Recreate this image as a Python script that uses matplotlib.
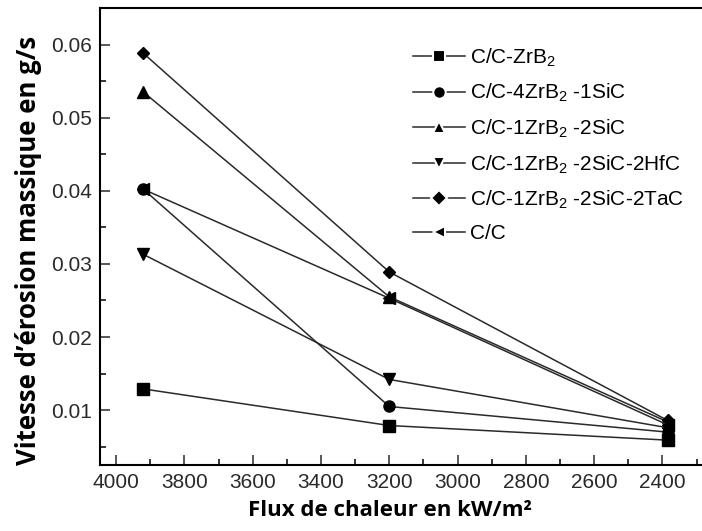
import matplotlib
matplotlib.use("Agg")
import matplotlib.pyplot as plt
from matplotlib.ticker import MultipleLocator

# flux de chaleur (kW/m2)
flux = [3920, 3200, 2385]

# vitesse d'erosion massique (g/s)
zrb2 = [0.0129, 0.0079, 0.0059]
zrb2_sic_4_1 = [0.0402, 0.0105, 0.0070]
zrb2_sic_1_2 = [0.0535, 0.0255, 0.0084]
zrb2_sic_hfc = [0.0313, 0.0142, 0.0076]
zrb2_sic_tac = [0.0588, 0.0289, 0.0086]
cc = [0.0402, 0.0253, 0.0080]

series = [
    (zrb2, 's', 'C/C-ZrB$_2$'),
    (zrb2_sic_4_1, 'o', 'C/C-4ZrB$_2$ -1SiC'),
    (zrb2_sic_1_2, '^', 'C/C-1ZrB$_2$ -2SiC'),
    (zrb2_sic_hfc, 'v', 'C/C-1ZrB$_2$ -2SiC-2HfC'),
    (zrb2_sic_tac, 'D', 'C/C-1ZrB$_2$ -2SiC-2TaC'),
    (cc, '<', 'C/C'),
]

plt.rcParams['font.family'] = ['Liberation Sans', 'DejaVu Sans']
plt.rcParams['mathtext.fontset'] = 'custom'
plt.rcParams['mathtext.rm'] = 'Liberation Sans'

fig = plt.figure(figsize=(7.02, 5.31), dpi=100)
ax = fig.add_axes([0.1425, 0.1243, 0.8575, 0.8607])

for ys, mk, lab in series:
    ms = 6.5 if mk == 'D' else 8
    ax.plot(flux, ys, color='#2a2a2a', linewidth=1.1, marker=mk,
            markersize=ms, markerfacecolor='black', markeredgecolor='black',
            label=lab)

ax.set_xlim(4047, 2284)
ax.set_ylim(0.0025, 0.065)
ax.xaxis.set_major_locator(MultipleLocator(200))
ax.xaxis.set_minor_locator(MultipleLocator(100))
ax.yaxis.set_major_locator(MultipleLocator(0.01))
ax.yaxis.set_minor_locator(MultipleLocator(0.005))
ax.yaxis.set_major_formatter(plt.FuncFormatter(lambda v, p: '%.2f' % v))

ax.tick_params(which='major', direction='in', length=7, width=1.1,
               labelsize=15, colors='#2a2a2a', pad=6)
ax.tick_params(which='minor', direction='in', length=4, width=1.1)
ax.spines['right'].set_visible(False)
for s in ['left', 'bottom', 'top']:
    ax.spines[s].set_linewidth(1.5)

ax.set_xlabel('Flux de chaleur en kW/m²', fontsize=16, fontweight='bold',
              family='Open Sans')
ax.xaxis.set_label_coords(0.482, -0.077)
ax.set_ylabel('Vitesse d’érosion massique en g/s', fontsize=18.5,
              fontweight='bold', family='Open Sans')
ax.yaxis.set_label_coords(-0.097, 0.47)

leg = ax.legend(loc='upper left', bbox_to_anchor=(0.488, 0.957),
                frameon=False, fontsize=15, numpoints=1, handlelength=2.5,
                labelspacing=0.62, handletextpad=0.25)
# petit espace blanc entre trait et marqueur, comme dans l'original
for h in leg.legend_handles:
    h.set_markersize(9 if h.get_marker() != 'D' else 8)
    h.set_markeredgecolor('white')
    h.set_markeredgewidth(1.5)

fig.savefig('out.png', dpi=100)
